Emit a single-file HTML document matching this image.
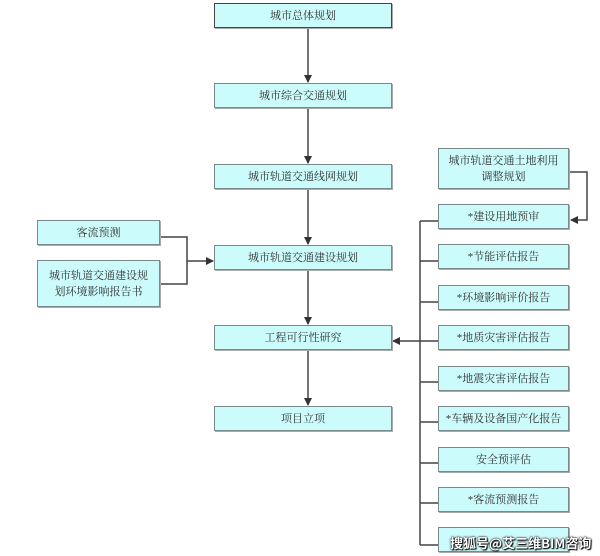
<!DOCTYPE html><html><head><meta charset="utf-8"><style>
body{margin:0;width:600px;height:556px;background:#fff;position:relative;overflow:hidden;font-family:"Liberation Serif","Noto Serif CJK SC",serif;}
.b{position:absolute;background:#ccfbfb;border:1px solid #7a8a8a;box-sizing:border-box;display:flex;align-items:center;justify-content:center;text-align:center;font-size:11px;color:#333;line-height:16px;white-space:nowrap;box-shadow:1px 1px 0 #aaa}
svg{position:absolute;left:0;top:0}
.wm{position:absolute;left:450px;top:533px;white-space:nowrap;font-family:"Noto Sans CJK SC",sans-serif;font-size:13px;font-weight:bold;color:#fff;text-shadow:0 0 2px #000,0 0 1px #000,1px 1px 1px #000}
</style></head><body>
<svg width="600" height="556"><defs><marker id="a" markerWidth="8" markerHeight="8" refX="7" refY="4" orient="auto" markerUnits="userSpaceOnUse"><path d="M0,0L8,4L0,8z" fill="#333"/></marker></defs>
<g stroke="#444" stroke-width="1.5" fill="none">
<line x1="308" y1="27" x2="308" y2="82" marker-end="url(#a)"/>
<line x1="308" y1="108" x2="308" y2="163" marker-end="url(#a)"/>
<line x1="308" y1="189" x2="308" y2="244" marker-end="url(#a)"/>
<line x1="308" y1="269" x2="308" y2="324" marker-end="url(#a)"/>
<line x1="308" y1="350" x2="308" y2="405" marker-end="url(#a)"/>
<polyline points="160,237 187,237 187,284 160,284"/>
<line x1="187" y1="261" x2="213" y2="261" marker-end="url(#a)"/>
<polyline points="569,172 587,172 587,220 571,220" marker-end="url(#a)"/>
<line x1="420" y1="221" x2="420" y2="545"/>
<line x1="420" y1="341" x2="393" y2="341" marker-end="url(#a)"/>
<line x1="420" y1="221" x2="438" y2="221"/><line x1="420" y1="261" x2="438" y2="261"/><line x1="420" y1="302" x2="438" y2="302"/><line x1="420" y1="341" x2="438" y2="341"/><line x1="420" y1="382" x2="438" y2="382"/><line x1="420" y1="422" x2="438" y2="422"/><line x1="420" y1="463" x2="438" y2="463"/><line x1="420" y1="503" x2="438" y2="503"/><line x1="420" y1="545" x2="438" y2="545"/>
</g></svg>
<div class="b" style="left:214px;top:3px;width:178px;height:25px;border-color:#444">城市总体规划</div>
<div class="b" style="left:214px;top:83px;width:178px;height:25px">城市综合交通规划</div>
<div class="b" style="left:214px;top:164px;width:178px;height:25px">城市轨道交通线网规划</div>
<div class="b" style="left:214px;top:245px;width:178px;height:25px">城市轨道交通建设规划</div>
<div class="b" style="left:214px;top:325px;width:178px;height:25px">工程可行性研究</div>
<div class="b" style="left:214px;top:406px;width:178px;height:25px">项目立项</div>
<div class="b" style="left:37px;top:220px;width:123px;height:25px">客流预测</div>
<div class="b" style="left:37px;top:260px;width:123px;height:47px">城市轨道交通建设规<br>划环境影响报告书</div>
<div class="b" style="left:438px;top:148px;width:131px;height:41px">城市轨道交通土地利用<br>调整规划</div>
<div class="b" style="left:438px;top:204px;width:131px;height:25px">*建设用地预审</div>
<div class="b" style="left:438px;top:244px;width:131px;height:25px">*节能评估报告</div>
<div class="b" style="left:438px;top:285px;width:131px;height:25px">*环境影响评价报告</div>
<div class="b" style="left:438px;top:325px;width:131px;height:25px">*地质灾害评估报告</div>
<div class="b" style="left:438px;top:366px;width:131px;height:25px">*地震灾害评估报告</div>
<div class="b" style="left:438px;top:406px;width:131px;height:25px">*车辆及设备国产化报告</div>
<div class="b" style="left:438px;top:447px;width:131px;height:25px">安全预评估</div>
<div class="b" style="left:438px;top:487px;width:131px;height:25px">*客流预测报告</div>
<div class="b" style="left:438px;top:527px;width:131px;height:25px"></div>
<div class="wm">搜狐号@艾三维BIM咨询</div>
</body></html>
